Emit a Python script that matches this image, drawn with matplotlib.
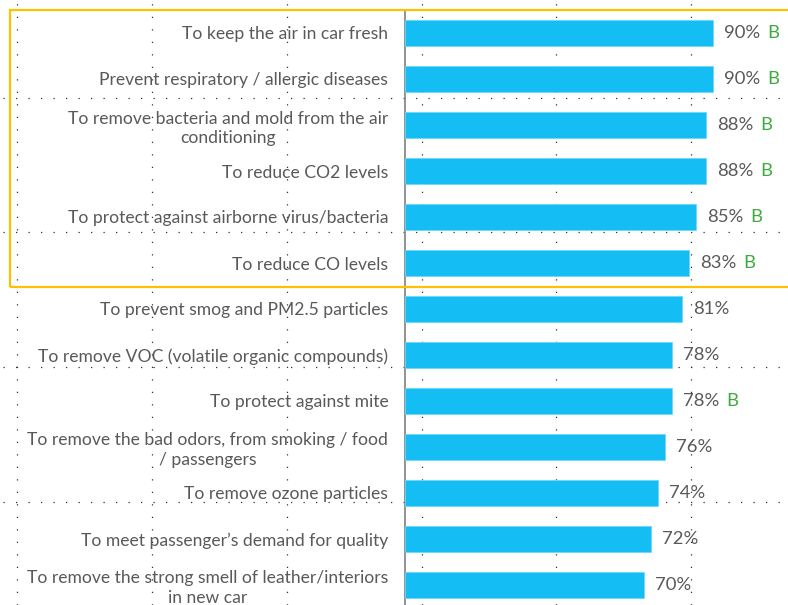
import matplotlib.pyplot as plt
from matplotlib.lines import Line2D
from matplotlib.patches import Rectangle
import numpy as np

plt.rcParams['font.family'] = ['Lato', 'DejaVu Sans']

labels = [
    'To keep the air in car fresh',
    'Prevent respiratory / allergic diseases',
    'To remove bacteria and mold from the air\nconditioning',
    'To reduce CO2 levels',
    'To protect against airborne virus/bacteria',
    'To reduce CO levels',
    'To prevent smog and PM2.5 particles',
    'To remove VOC (volatile organic compounds)',
    'To protect against mite',
    'To remove the bad odors, from smoking / food\n/ passengers',
    'To remove ozone particles',
    'To meet passenger\u2019s demand for quality',
    'To remove the strong smell of leather/interiors\nin new car',
]
values = [90, 90, 88, 88, 85, 83, 81, 78, 78, 76, 74, 72, 70]
flags = ['B', 'B', 'B', 'B', 'B', 'B', '', '', 'B', '', '', '', '']

W, H = 788, 605
fig = plt.figure(figsize=(W / 100, H / 100), dpi=100)

# dotted grid overlay (page-style gridlines)
for xp in [17, 152, 287, 422, 556, 691]:
    fig.add_artist(Line2D([xp / W, xp / W], [0, 1], color='#303030', lw=0.9,
                          linestyle=(0, (1, 9)), zorder=0))
for yp in [98, 232, 367, 502]:
    fig.add_artist(Line2D([3 / W, 1], [1 - yp / H, 1 - yp / H], color='#303030', lw=0.9,
                          linestyle=(0, (1, 9)), zorder=0))

ax = fig.add_axes([405 / W, 1 - 608 / H, 1 - 405 / W, 598 / H])
ax.patch.set_visible(False)
y = np.arange(len(values))
ax.barh(y, values, height=0.58, color='#14BEF5', edgecolor='#6FD6FA', linewidth=0.6, zorder=3)
ax.set_ylim(len(values) - 0.5, -0.5)
ax.set_xlim(0, 112)

ax.set_yticks(y)
ax.set_yticklabels(labels, fontsize=12.6, color='#595959', multialignment='center',
                   linespacing=1.3)
ax.tick_params(axis='y', length=0, pad=12)
ax.set_xticks([])
for s in ['top', 'right', 'bottom']:
    ax.spines[s].set_visible(False)
ax.spines['left'].set_color('#7F7F7F')
ax.spines['left'].set_linewidth(1.2)

for yi, v, f in zip(y, values, flags):
    ax.annotate(f'{v}%', xy=(v, yi), xytext=(8, 0), textcoords='offset points',
                ha='left', va='center', fontsize=13.3, color='#595959', zorder=4)
    if f:
        ax.annotate(f, xy=(v, yi), xytext=(39, 0), textcoords='offset points',
                    ha='left', va='center', fontsize=13.3, color='#3DAA3D', zorder=4)

# highlight box around the top six items
fig.add_artist(Rectangle((10 / W, 1 - 287 / H), 1.0, 277 / H, fill=False,
                         edgecolor='#FFC000', linewidth=1.6, zorder=5))

fig.savefig('out.png', dpi=100)
